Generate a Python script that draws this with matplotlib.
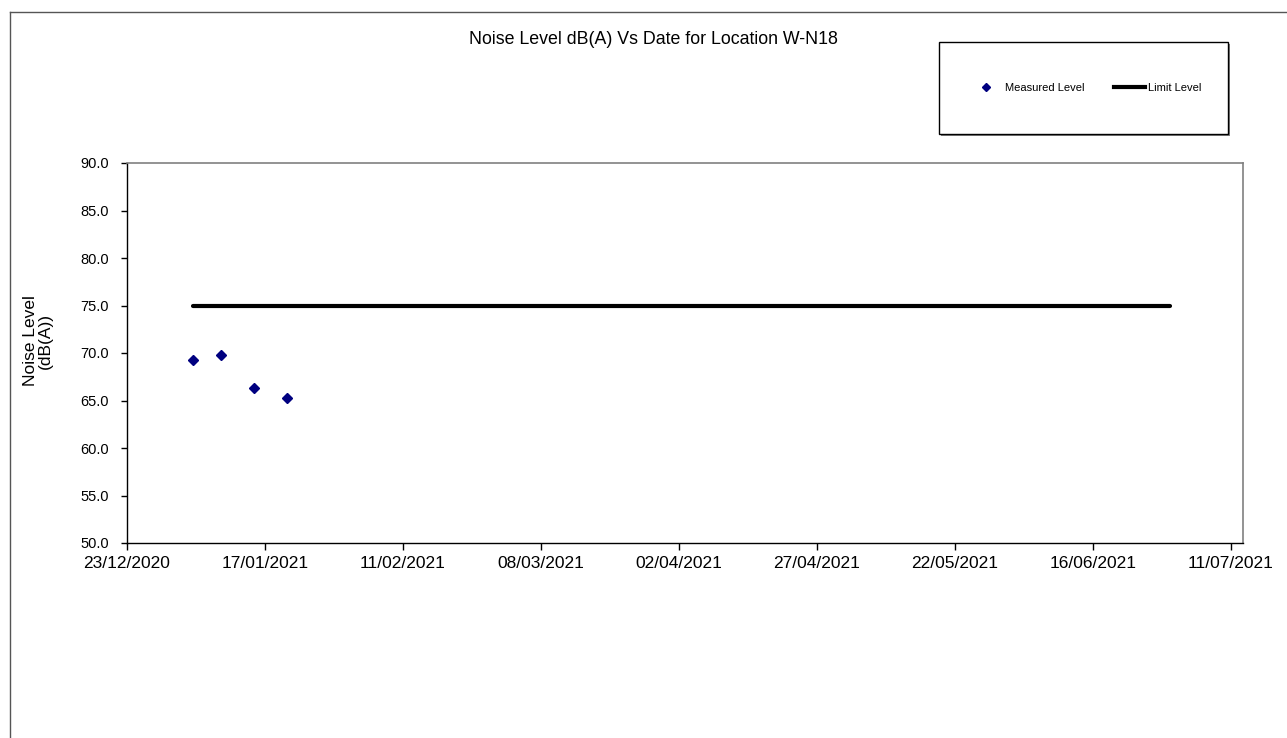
import pandas as pd
import matplotlib
matplotlib.use("Agg")
import matplotlib.pyplot as plt
import matplotlib.dates as mdates
from matplotlib.lines import Line2D
from matplotlib.patches import Rectangle

plt.rcParams['font.family'] = ['Liberation Sans', 'DejaVu Sans']

# measured noise levels
dates = pd.to_datetime(['2021-01-04', '2021-01-09', '2021-01-15', '2021-01-21'])
levels = [69.3, 69.8, 66.3, 65.3]

# limit level line
limit_dates = pd.to_datetime(['2021-01-04', '2021-06-30'])
limit_levels = [75.0, 75.0]

x_ticks = pd.date_range('2020-12-23', periods=9, freq='25D')
x_min = pd.Timestamp('2020-12-23')
x_max = pd.Timestamp('2021-07-13 05:00')

W, H = 1287, 738
fig = plt.figure(figsize=(W / 100, H / 100), dpi=100)

# outer chart border (only top/left visible)
fig.add_artist(Line2D([10 / W, 10 / W], [1 - 12 / H, 0], color='#555555', lw=1.0))
fig.add_artist(Line2D([10 / W, 1], [1 - 12 / H, 1 - 12 / H], color='#555555', lw=1.0))

ax = fig.add_axes([127 / W, (H - 543) / H, (1243 - 127) / W, (543 - 163) / H])

ax.plot(limit_dates, limit_levels, color='black', lw=3, solid_capstyle='round', zorder=2)
ax.plot(dates, levels, linestyle='none', marker='D', markersize=5,
        color='#000080', zorder=3)

ax.set_xlim(x_min, x_max)
ax.set_ylim(50, 90)
ax.set_xticks(x_ticks)
ax.xaxis.set_major_formatter(mdates.DateFormatter('%d/%m/%Y'))
ax.set_yticks(range(50, 91, 5))
ax.yaxis.set_major_formatter(plt.FormatStrFormatter('%.1f'))
ax.tick_params(axis='x', labelsize=12.5, length=5, width=1, pad=4)
ax.tick_params(axis='y', labelsize=10.5, length=4, width=1, pad=9)

for side in ['left', 'bottom']:
    ax.spines[side].set_color('black')
    ax.spines[side].set_linewidth(1.0)
for side in ['top', 'right']:
    ax.spines[side].set_color('#808080')
    ax.spines[side].set_linewidth(1.2)

fig.text(653 / W, 1 - 40 / H, 'Noise Level dB(A) Vs Date for Location W-N18',
         ha='center', va='center', fontsize=12.8)
fig.text(38 / W, 1 - 341 / H, 'Noise Level\n(dB(A))', rotation=90,
         ha='center', va='center', multialignment='center', fontsize=12.5,
         linespacing=0.95)

# legend box with shadow
fig.add_artist(Rectangle((941 / W, 1 - 136 / H), 289 / W, 92 / H,
                         transform=fig.transFigure, facecolor='#808080',
                         edgecolor='none', zorder=1))
fig.add_artist(Rectangle((939 / W, 1 - 134 / H), 289 / W, 92 / H,
                         transform=fig.transFigure, facecolor='white',
                         edgecolor='black', lw=1.0, zorder=2))
handles = [
    Line2D([], [], linestyle='none', marker='D', markersize=4, color='#000080'),
    Line2D([], [], color='black', lw=3),
]
leg = fig.legend(handles, ['Measured Level', 'Limit Level'], ncol=2,
                 loc='center', bbox_to_anchor=(1086 / W, 1 - 88 / H),
                 frameon=False, fontsize=8, handlelength=2.8,
                 handletextpad=0.3, columnspacing=2.6)
leg.set_zorder(3)

fig.savefig('out.png', dpi=100)
